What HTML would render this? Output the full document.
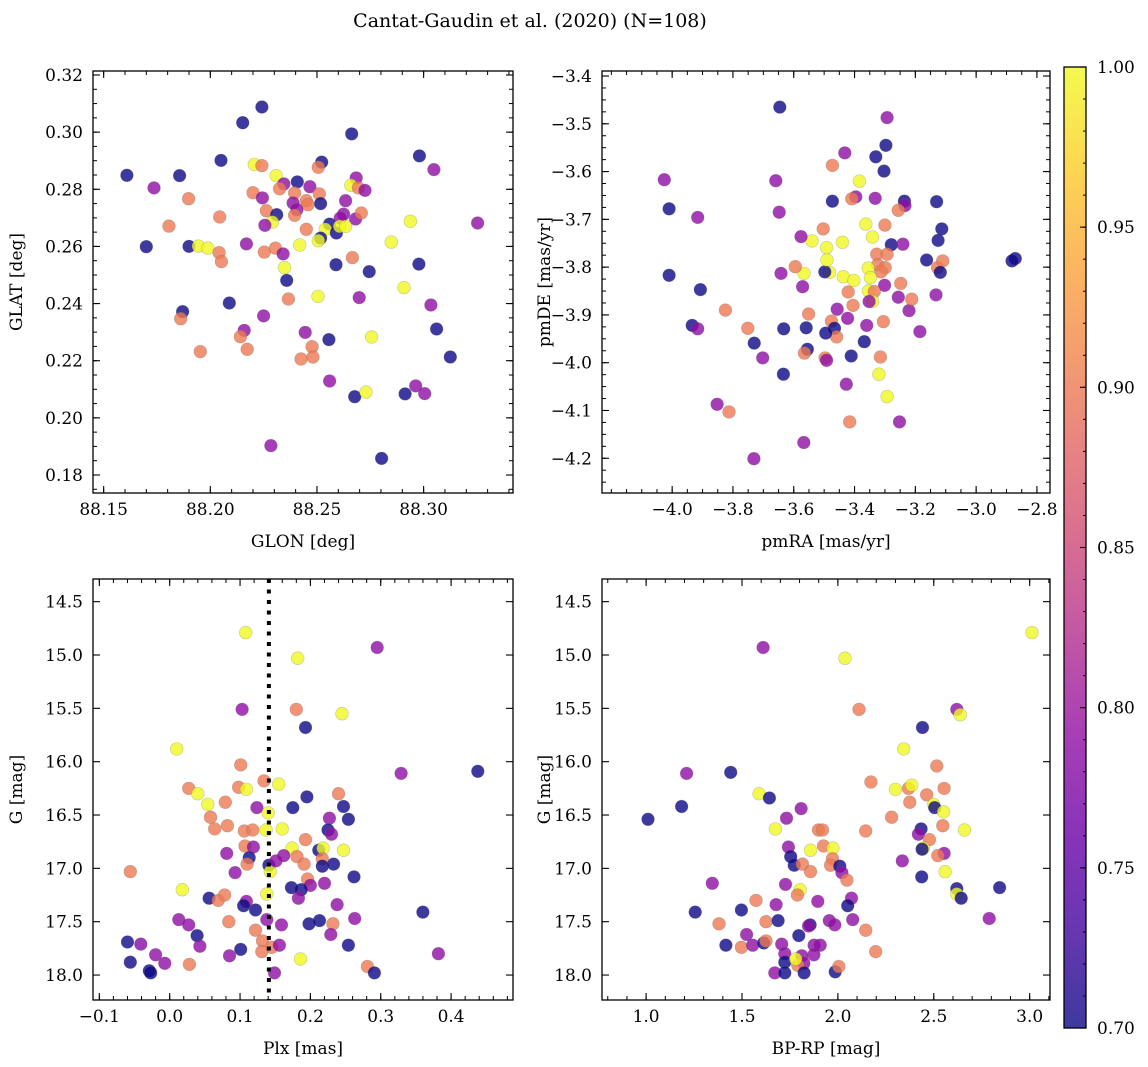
<!DOCTYPE html>
<html><head><meta charset="utf-8">
<style>
html,body{margin:0;padding:0;background:#fff;}
svg{display:block;font-family:"DejaVu Serif","Liberation Serif",serif;}
</style></head>
<body>
<svg id="fig" width="1148" height="1067" viewBox="0 0 1148 1067" xmlns="http://www.w3.org/2000/svg">
<text x="530" y="27" font-size="19" text-anchor="middle">Cantat-Gaudin et al. (2020) (N=108)</text>
</svg>
<script>
// ---- Panel 1 data: GLON / GLAT ----
const glon = [88.2242,88.2152,88.2663,88.2980,88.3048,88.2050,88.2206,88.2242,88.2522,88.2506,88.1609,88.1856,88.1736,88.1898,88.2309,88.2345,88.2325,88.2408,88.2467,88.2395,88.2511,88.2200,88.2244,88.2517,88.2388,88.2450,88.2458,88.2406,88.2395,88.2263,88.2311,88.2291,88.2256,88.2044,88.1806,88.2684,88.2659,88.2694,88.2725,88.2634,88.2625,88.2609,88.2681,88.2708,88.2559,88.2539,88.2591,88.2606,88.2634,88.2450,88.2517,88.2506,88.2938,88.3253,88.2848,88.2419,88.1700,88.1900,88.1944,88.1988,88.2041,88.2052,88.2169,88.2253,88.2305,88.2341,88.2348,88.2358,88.2589,88.2666,88.2745,88.2978,88.2908,88.3034,88.2366,88.2505,88.2698,88.2089,88.1870,88.1861,88.2250,88.2159,88.2141,88.2173,88.1953,88.2445,88.2477,88.2481,88.2425,88.2556,88.2756,88.3061,88.3125,88.2559,88.2677,88.2730,88.2913,88.2963,88.3005,88.2284,88.2803];
const glat = [0.3088,0.3033,0.2994,0.2917,0.2869,0.2901,0.2887,0.2883,0.2895,0.2877,0.2849,0.2848,0.2805,0.2767,0.2848,0.2819,0.2802,0.2826,0.2809,0.2787,0.2784,0.2788,0.2770,0.2750,0.2752,0.2760,0.2746,0.2729,0.2709,0.2725,0.2711,0.2685,0.2674,0.2703,0.2671,0.2840,0.2814,0.2805,0.2796,0.2760,0.2713,0.2699,0.2696,0.2717,0.2678,0.2660,0.2647,0.2670,0.2670,0.2660,0.2629,0.2620,0.2688,0.2682,0.2615,0.2605,0.2599,0.2600,0.2601,0.2594,0.2578,0.2547,0.2609,0.2580,0.2594,0.2574,0.2526,0.2481,0.2536,0.2561,0.2512,0.2538,0.2456,0.2395,0.2416,0.2425,0.2421,0.2402,0.2372,0.2347,0.2357,0.2306,0.2284,0.2240,0.2232,0.2299,0.2249,0.2213,0.2206,0.2274,0.2283,0.2311,0.2213,0.2129,0.2074,0.2090,0.2084,0.2112,0.2085,0.1903,0.1858];
const prob1 = [0.70,0.70,0.70,0.70,0.79,0.70,1.00,0.90,0.70,0.90,0.70,0.70,0.79,0.90,1.00,0.79,0.90,0.70,0.79,0.90,0.90,0.90,0.79,0.70,0.79,0.90,0.90,0.79,0.90,0.90,0.70,1.00,0.79,0.90,0.90,0.79,1.00,0.90,0.79,0.79,0.79,0.79,0.79,0.90,0.70,1.00,0.70,1.00,1.00,0.90,0.70,1.00,1.00,0.79,1.00,1.00,0.70,0.70,1.00,1.00,0.90,0.90,0.79,0.90,0.90,0.79,1.00,0.70,0.70,0.90,0.70,0.70,1.00,0.79,0.90,1.00,0.79,0.70,0.70,0.90,0.79,0.79,0.90,0.90,0.90,0.79,0.90,0.90,0.90,0.70,1.00,0.70,0.70,0.79,0.70,1.00,0.70,0.79,0.79,0.79,0.70];
// ---- Panel 2 data: pmRA / pmDE ----
const pmra = [-3.646,-3.293,-3.297,-3.330,-3.432,-3.473,-3.303,-4.026,-3.659,-3.384,-4.010,-3.916,-3.648,-3.473,-3.396,-3.409,-3.332,-3.236,-3.234,-3.256,-3.130,-3.113,-3.125,-3.163,-3.127,-3.110,-3.118,-2.871,-2.882,-3.132,-3.185,-3.221,-3.212,-3.256,-3.248,-3.301,-3.300,-3.363,-3.341,-3.279,-3.241,-3.327,-3.293,-3.324,-3.299,-3.313,-3.355,-3.348,-3.354,-3.335,-3.341,-3.352,-3.305,-3.360,-3.368,-3.315,-3.320,-3.293,-3.252,-3.416,-3.427,-3.411,-3.405,-3.421,-3.423,-3.457,-3.476,-3.466,-3.459,-3.495,-3.497,-3.492,-3.440,-3.437,-3.402,-3.482,-3.498,-3.491,-3.492,-3.503,-3.540,-3.576,-3.566,-3.595,-3.642,-3.571,-3.551,-3.559,-3.555,-3.565,-3.633,-3.634,-3.567,-3.731,-3.702,-3.730,-3.751,-3.825,-3.907,-3.934,-3.916,-4.010,-3.852,-3.813];
const pmde = [-3.465,-3.487,-3.545,-3.569,-3.561,-3.587,-3.599,-3.617,-3.619,-3.620,-3.678,-3.696,-3.685,-3.662,-3.653,-3.657,-3.656,-3.662,-3.671,-3.681,-3.663,-3.720,-3.744,-3.785,-3.801,-3.787,-3.811,-3.782,-3.787,-3.858,-3.935,-3.891,-3.867,-3.863,-3.834,-3.838,-3.712,-3.710,-3.737,-3.753,-3.752,-3.773,-3.773,-3.795,-3.801,-3.810,-3.802,-3.822,-3.850,-3.851,-3.872,-3.872,-3.914,-3.922,-3.956,-3.988,-4.024,-4.071,-4.124,-4.124,-4.045,-3.986,-3.880,-3.852,-3.907,-3.888,-3.913,-3.928,-3.946,-3.938,-3.990,-3.995,-3.748,-3.820,-3.828,-3.811,-3.810,-3.785,-3.759,-3.720,-3.745,-3.736,-3.813,-3.799,-3.813,-3.841,-3.898,-3.927,-3.972,-3.980,-3.929,-4.024,-4.167,-4.201,-3.990,-3.959,-3.928,-3.890,-3.847,-3.922,-3.929,-3.817,-4.087,-4.103];
const prob2 = [0.70,0.79,0.70,0.70,0.79,0.90,0.70,0.79,0.79,1.00,0.70,0.79,0.79,0.70,0.79,0.90,0.79,0.70,0.79,0.90,0.70,0.70,0.70,0.70,0.90,0.90,0.70,0.70,0.70,0.79,0.79,0.79,0.90,0.79,0.90,0.79,0.90,1.00,1.00,0.70,0.79,0.90,0.90,0.90,0.90,0.90,1.00,1.00,1.00,0.90,1.00,0.79,0.90,0.79,0.70,0.90,1.00,1.00,0.79,0.90,0.79,0.70,0.90,0.90,0.79,0.79,0.90,0.70,0.90,0.70,0.90,0.79,1.00,1.00,1.00,1.00,0.70,1.00,1.00,0.90,1.00,0.79,1.00,0.90,0.79,0.79,0.90,0.70,0.70,0.90,0.70,0.70,0.79,0.79,0.79,0.70,0.90,0.90,0.70,0.70,0.79,0.70,0.79,0.90];
// ---- Panel 3 data: Plx / G ----
const plx = [0.108,0.295,0.182,0.103,0.180,0.245,0.193,0.010,0.101,0.329,0.438,0.027,0.040,0.054,0.079,0.058,0.064,0.082,0.098,0.109,0.134,0.155,0.124,0.140,0.137,0.160,0.106,0.118,0.175,0.195,0.240,0.247,0.254,0.227,0.225,0.230,0.193,0.174,0.212,0.218,0.247,0.181,0.191,0.217,0.217,0.233,0.262,0.107,0.119,0.081,0.113,0.110,0.093,0.141,0.143,0.151,0.162,-0.056,0.018,0.196,0.200,0.220,0.173,0.187,0.183,0.138,0.056,0.069,0.078,0.109,0.105,0.122,0.238,0.360,0.013,0.027,0.084,0.138,0.159,0.198,0.213,0.232,0.263,0.229,0.039,0.043,0.122,0.132,0.145,0.131,0.156,0.101,0.085,0.254,0.186,0.382,0.281,0.291,0.149,-0.060,-0.041,-0.056,-0.020,-0.007,-0.029,-0.027,0.028];
const gmag3 = [14.79,14.93,15.03,15.51,15.51,15.55,15.68,15.88,16.03,16.11,16.09,16.25,16.30,16.40,16.38,16.52,16.63,16.60,16.24,16.26,16.18,16.21,16.43,16.48,16.64,16.63,16.65,16.64,16.43,16.33,16.30,16.42,16.54,16.53,16.64,16.68,16.73,16.81,16.83,16.81,16.83,16.89,16.96,16.91,16.98,16.96,17.08,16.79,16.80,16.86,16.90,16.96,17.04,16.97,17.03,16.93,16.88,17.03,17.20,17.10,17.16,17.14,17.18,17.20,17.28,17.24,17.28,17.30,17.25,17.31,17.35,17.39,17.34,17.41,17.48,17.53,17.50,17.48,17.53,17.52,17.49,17.52,17.47,17.62,17.63,17.73,17.58,17.68,17.74,17.78,17.72,17.76,17.82,17.72,17.85,17.80,17.92,17.98,17.98,17.69,17.71,17.88,17.81,17.89,17.96,17.98,17.90];
const prob3 = [1.00,0.79,1.00,0.79,0.90,1.00,0.70,1.00,0.90,0.79,0.70,0.90,1.00,1.00,0.90,0.90,0.90,0.90,0.90,1.00,0.90,1.00,0.79,1.00,1.00,1.00,0.90,0.90,0.70,0.70,0.90,0.70,0.70,0.79,0.70,0.79,0.90,1.00,0.70,1.00,1.00,0.90,0.90,0.90,0.70,0.70,0.70,0.90,0.79,0.79,0.70,0.90,0.79,0.70,1.00,0.79,0.79,0.90,1.00,0.90,0.79,0.79,0.70,0.70,0.79,1.00,0.70,0.90,0.90,0.79,0.70,0.70,0.79,0.70,0.79,0.79,0.90,0.79,0.79,0.70,0.70,0.90,0.79,0.79,0.70,0.79,0.90,0.90,0.90,0.90,0.79,0.70,0.79,0.70,1.00,0.79,0.90,0.70,0.79,0.70,0.78,0.70,0.79,0.79,0.70,0.70,0.90];
const plxCut = [0.141];
// ---- Panel 4 data: BP-RP / G ----
const bprp = [3.012,1.610,2.037,2.110,2.620,2.638,2.441,2.343,2.516,1.211,1.441,2.172,2.300,2.368,2.385,2.554,2.463,2.375,1.589,1.643,1.185,1.808,2.500,2.505,2.551,1.010,1.732,1.674,1.899,1.920,2.145,2.280,2.547,2.660,2.434,2.420,2.477,1.742,1.857,1.925,1.974,1.972,1.962,2.010,2.021,2.047,2.446,2.439,2.554,2.521,2.336,2.559,1.754,1.772,1.815,1.857,2.437,1.345,1.727,1.803,1.789,1.895,2.071,2.051,2.620,2.620,2.643,2.843,1.573,1.678,1.256,1.497,1.380,1.625,1.688,1.855,1.847,1.955,1.984,2.077,2.145,2.789,1.524,1.416,1.497,1.556,1.613,1.625,1.707,1.796,1.876,1.908,1.875,1.723,1.723,1.812,1.822,1.791,1.780,1.671,1.723,1.824,1.986,2.005,2.197];
const gmag4 = [14.79,14.93,15.03,15.51,15.51,15.56,15.68,15.88,16.04,16.11,16.10,16.19,16.26,16.25,16.22,16.25,16.31,16.38,16.30,16.34,16.42,16.44,16.40,16.43,16.47,16.54,16.53,16.63,16.64,16.64,16.65,16.52,16.60,16.64,16.63,16.68,16.73,16.80,16.83,16.79,16.81,16.91,16.97,16.98,17.04,17.11,16.81,16.82,16.86,16.88,16.93,17.03,16.89,16.97,16.96,17.03,17.08,17.14,17.15,17.20,17.25,17.31,17.28,17.35,17.19,17.24,17.28,17.18,17.30,17.34,17.41,17.39,17.52,17.50,17.49,17.53,17.54,17.49,17.53,17.48,17.58,17.47,17.62,17.72,17.74,17.72,17.70,17.68,17.71,17.63,17.72,17.72,17.81,17.80,17.88,17.82,17.89,17.91,17.85,17.98,17.98,17.98,17.97,17.92,17.78];
const prob4 = [1.00,0.79,1.00,0.90,0.79,1.00,0.70,1.00,0.90,0.79,0.70,0.90,1.00,0.90,1.00,0.90,0.90,0.90,1.00,0.70,0.70,0.79,1.00,0.70,1.00,0.70,0.79,1.00,0.90,0.90,0.90,0.90,0.90,1.00,0.70,0.79,0.90,0.79,1.00,0.90,1.00,0.90,0.90,0.70,0.79,0.90,1.00,0.70,0.79,0.90,0.79,1.00,0.70,0.70,0.90,0.90,0.70,0.79,0.79,1.00,0.90,0.79,0.79,0.70,0.70,1.00,0.70,0.70,0.90,0.79,0.70,0.70,0.90,0.90,0.70,0.70,0.79,0.79,0.79,0.79,0.90,0.79,0.79,0.70,0.90,0.79,0.70,0.90,0.79,0.70,0.79,0.79,0.79,0.79,0.70,0.79,0.79,0.90,1.00,0.79,0.70,0.70,0.70,0.90,0.90];
// ---- Colorbar ticks ----
const cbTicks = [0.70,0.75,0.80,0.85,0.90,0.95,1.00];

const NS = "http://www.w3.org/2000/svg";
const svg = document.getElementById('fig');
function mk(tag, attrs, parent){ const e=document.createElementNS(NS,tag); for(const k in attrs) e.setAttribute(k,attrs[k]); (parent||svg).appendChild(e); return e; }
const stops=[[13,8,135],[65,4,157],[106,0,168],[143,13,164],[177,42,144],[204,71,120],[225,100,98],[242,132,75],[252,166,54],[252,206,37],[240,249,33]];
function plasma(t){ t=Math.max(0,Math.min(1,t)); const f=t*10, i=Math.min(9,Math.floor(f)), u=f-i; const a=stops[i], b=stops[i+1]; return 'rgb('+[0,1,2].map(k=>Math.round(a[k]+(b[k]-a[k])*u)).join(',')+')'; }
const vmin=0.70, vmax=1.00;
function fmt(v,d){ const s=v.toFixed(d); return s.replace('-','\u2212'); }

function panel(cfg){
  const g=mk('g',{});
  
  
  const L=cfg.box[0],T=cfg.box[1],R=cfg.box[2],B=cfg.box[3];
  const sx=v=>L+(v-cfg.xr[0])/(cfg.xr[1]-cfg.xr[0])*(R-L);
  const sy=v=>B-(v-cfg.yr[0])/(cfg.yr[1]-cfg.yr[0])*(B-T);
  const clip='clip-'+cfg.name;
  const cp=mk('clipPath',{id:clip},g); mk('rect',{x:L,y:T,width:R-L,height:B-T},cp);
  const pts=mk('g',{'clip-path':'url(#'+clip+')'},g);
  for(let i=0;i<cfg.xs.length;i++){
    const c=mk('circle',{cx:sx(cfg.xs[i]).toFixed(1),cy:sy(cfg.ys[i]).toFixed(1),r:6.4,fill:plasma((cfg.ps[i]-vmin)/(vmax-vmin)),'fill-opacity':0.8,stroke:'#666','stroke-opacity':0.35,'stroke-width':0.6},pts);
    
    
  }
  if(cfg.vline){
    const ln=mk('line',{x1:sx(cfg.vline[0]),x2:sx(cfg.vline[0]),y1:T,y2:B,stroke:'#000','stroke-width':4,'stroke-dasharray':'4 6.5'},g);
    
    
  }
  const fr=mk('rect',{x:L,y:T,width:R-L,height:B-T,fill:'none',stroke:'#000','stroke-width':1.3},g);
  
  
  const eps=1e-9;
  for(let v=Math.ceil((cfg.xr[0])/cfg.xminor-eps)*cfg.xminor; v<=cfg.xr[1]+eps; v+=cfg.xminor){
    const x=sx(v); mk('line',{x1:x,x2:x,y1:B,y2:B-4,stroke:'#000','stroke-width':1},g); mk('line',{x1:x,x2:x,y1:T,y2:T+4,stroke:'#000','stroke-width':1},g);
  }
  for(let v=Math.ceil((cfg.yr[0])/cfg.yminor-eps)*cfg.yminor; v<=cfg.yr[1]+eps; v+=cfg.yminor){
    const y=sy(v); mk('line',{x1:L,x2:L+4,y1:y,y2:y,stroke:'#000','stroke-width':1},g); mk('line',{x1:R,x2:R-4,y1:y,y2:y,stroke:'#000','stroke-width':1},g);
  }
  cfg.xt.forEach(v=>{ const x=sx(v);
    mk('line',{x1:x,x2:x,y1:B,y2:B-7,stroke:'#000','stroke-width':1.1},g); mk('line',{x1:x,x2:x,y1:T,y2:T+7,stroke:'#000','stroke-width':1.1},g);
    const t=mk('text',{x:x,y:B+22,'font-size':17,'text-anchor':'middle'},g); t.textContent=fmt(v,cfg.xd);
    
    
  });
  cfg.yt.forEach(v=>{ const y=sy(v);
    mk('line',{x1:L,x2:L+7,y1:y,y2:y,stroke:'#000','stroke-width':1.1},g); mk('line',{x1:R,x2:R-7,y1:y,y2:y,stroke:'#000','stroke-width':1.1},g);
    const t=mk('text',{x:L-10,y:y+6,'font-size':17,'text-anchor':'end'},g); t.textContent=fmt(v,cfg.yd);
    
    
  });
  const xl=mk('text',{x:(L+R)/2,y:B+54,'font-size':17,'text-anchor':'middle'},g); xl.textContent=cfg.xlabel;
  
  
  const yx=cfg.ylx, yy=(T+B)/2;
  const yl=mk('text',{x:yx,y:yy,'font-size':17,'text-anchor':'middle',transform:'rotate(-90 '+yx+' '+yy+')'},g); yl.textContent=cfg.ylabel;
  
  
}
function rng(a,b,s){ const r=[]; for(let v=a; v<=b+1e-9; v+=s) r.push(Math.round(v*1000)/1000); return r; }

panel({name:'glon-glat-panel',box:[93,71,513,493],xr:[88.145,88.3419],yr:[0.1737,0.3214],xs:glon,ys:glat,ps:prob1,
  xt:rng(88.15,88.30,0.05),yt:rng(0.18,0.32,0.02),xminor:0.01,yminor:0.005,xd:2,yd:2,xlabel:'GLON [deg]',ylabel:'GLAT [deg]',ylx:22});
panel({name:'pm-panel',box:[602,71,1050,493],xr:[-4.2308,-2.757],yr:[-4.2727,-3.3895],xs:pmra,ys:pmde,ps:prob2,
  xt:rng(-4.0,-2.8,0.2),yt:rng(-4.2,-3.4,0.1),xminor:0.05,yminor:0.025,xd:1,yd:1,xlabel:'pmRA [mas/yr]',ylabel:'pmDE [mas/yr]',ylx:550});
panel({name:'plx-g-panel',box:[93,579,513,1000],xr:[-0.109,0.488],yr:[18.234,14.2875],xs:plx,ys:gmag3,ps:prob3,vline:plxCut,
  xt:rng(-0.1,0.4,0.1),yt:rng(14.5,18.0,0.5),xminor:0.02,yminor:0.1,xd:1,yd:1,xlabel:'Plx [mas]',ylabel:'G [mag]',ylx:22});
panel({name:'cmd-panel',box:[602,579,1050,1000],xr:[0.770,3.106],yr:[18.234,14.2875],xs:bprp,ys:gmag4,ps:prob4,
  xt:rng(1.0,3.0,0.5),yt:rng(14.5,18.0,0.5),xminor:0.1,yminor:0.1,xd:1,yd:1,xlabel:'BP-RP [mag]',ylabel:'G [mag]',ylx:550});

(function(){
  const L=1064,R=1086,T=67,B=1028;
  const cb=mk('g',{});
  
  
  const defs=mk('defs',{},cb);
  const lg=mk('linearGradient',{id:'cbgrad',x1:0,y1:1,x2:0,y2:0},defs);
  for(let i=0;i<=20;i++){ mk('stop',{offset:(i/20),'stop-color':plasma(i/20)},lg); }
  mk('rect',{x:L,y:T,width:R-L,height:B-T,fill:'url(#cbgrad)','fill-opacity':0.8},cb);
  mk('rect',{x:L,y:T,width:R-L,height:B-T,fill:'none',stroke:'#000','stroke-width':1.3},cb);
  const sy=v=>B-(v-vmin)/(vmax-vmin)*(B-T);
  for(let v=0.70; v<=1.0001; v+=0.01){ const y=sy(v); mk('line',{x1:R,x2:R-3,y1:y,y2:y,stroke:'#000','stroke-width':1},cb); }
  cbTicks.forEach(v=>{ const y=sy(v);
    mk('line',{x1:R,x2:R-6,y1:y,y2:y,stroke:'#000','stroke-width':1.1},cb);
    const t=mk('text',{x:R+11,y:y+6,'font-size':17},cb); t.textContent=v.toFixed(2);
    
    
  });
})();
</script>
</body></html>
